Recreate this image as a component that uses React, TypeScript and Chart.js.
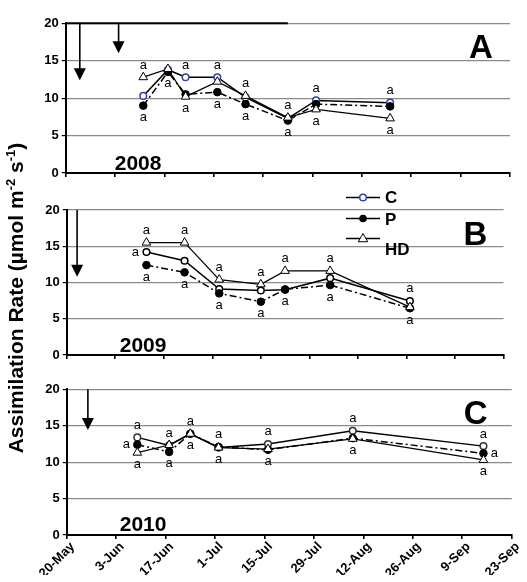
import React, { useEffect, useRef } from 'react';
import { Chart, registerables } from 'chart.js';
Chart.register(...registerables);

const FONT = "'Liberation Sans', Arial, Helvetica, sans-serif";

// ---------- data ----------
const tickLabels = ['20-May', '3-Jun', '17-Jun', '1-Jul', '15-Jul', '29-Jul', '12-Aug', '26-Aug', '9-Sep', '23-Sep'];
const axisStart = '05-20';

const dates2008 = ['06-11', '06-18', '06-23', '07-02', '07-10', '07-22', '07-30', '08-20'];
const c2008 = [10.3, 13.8, 12.8, 12.8, 10.1, 7.3, 9.7, 9.4];
const p2008 = [9.0, 13.5, 10.5, 10.8, 9.2, 7.0, 9.2, 8.9];
const hd2008 = [12.8, 13.9, 10.2, 12.2, 10.3, 7.4, 8.5, 7.3];

const dates2009 = ['06-12', '06-23', '07-03', '07-15', '07-22', '08-04', '08-27'];
const c2009 = [14.2, 13.0, 9.1, 8.9, 9.0, 10.6, 7.45];
const p2009 = [12.4, 11.4, 8.5, 7.35, 9.05, 9.65, 6.45];
const hd2009 = [15.5, 15.5, 10.4, 9.75, 11.6, 11.6, 6.6];

const dates2010 = ['06-09', '06-18', '06-24', '07-02', '07-16', '08-09', '09-15'];
const c2010 = [13.4, 12.3, 13.9, 12.0, 12.5, 14.3, 12.2];
const p2010 = [12.4, 11.4, 13.9, 12.1, 11.7, 13.3, 11.2];
const hd2010 = [11.3, 12.35, 13.9, 12.0, 11.8, 13.2, 10.3];

const arrows2008: [string, number][] = [['05-24', 12.4], ['06-04', 16.0]];
const arrows2009: [string, number][] = [['05-23', 10.8]];
const arrows2010: [string, number][] = [['05-26', 14.4]];
const topRuleEnd2008 = '07-22';

const years = ['2008', '2009', '2010'];
const panelLetters = ['A', 'B', 'C'];
const seriesNames = ['C', 'P', 'HD'];
const letterText = 'a';
// [panel, index] with no upper letter
const noAbove: [number, number][] = [[0, 1]];
// extra side letters: [panel, index, series, side]
const sideLetters: [number, number, number, number][] = [[1, 0, 0, -1], [2, 0, 1, -1], [2, 6, 1, 1]];
const yTitle = [
  { t: 'Assimilation Rate (µmol m', sup: false },
  { t: '-2', sup: true },
  { t: ' s', sup: false },
  { t: '-1', sup: true },
  { t: ')', sup: false },
];

// ---------- helpers ----------
function dayOf(md: string) {
  const [m, d] = md.split('-').map(Number);
  const [m0, d0] = axisStart.split('-').map(Number);
  return Math.round((Date.UTC(2001, m - 1, d) - Date.UTC(2001, m0 - 1, d0)) / 86400000);
}

const W = 527, H = 582;
const panels = [
  { dates: dates2008, series: [c2008, p2008, hd2008], arrows: arrows2008, area: { left: 65.7, right: 510, top: 23.3, bottom: 173 }, showX: false, letterRight: 29, yearLeft: 49, yearUp: 3, circleColor: '#2f46a8' },
  { dates: dates2009, series: [c2009, p2009, hd2009], arrows: arrows2009, area: { left: 66.7, right: 503.5, top: 210, bottom: 355 }, showX: false, letterRight: 28, yearLeft: 53, yearUp: 3, circleColor: '#000' },
  { dates: dates2010, series: [c2010, p2010, hd2010], arrows: arrows2010, area: { left: 66.7, right: 511.7, top: 389.3, bottom: 535 }, showX: true, letterRight: 36, yearLeft: 53, yearUp: 4, circleColor: '#333' },
];

function drawMarker(ctx: CanvasRenderingContext2D, kind: number, x: number, y: number, circleColor: string) {
  ctx.save();
  if (kind === 0) {
    ctx.beginPath(); ctx.arc(x, y, 3.3, 0, Math.PI * 2);
    ctx.fillStyle = '#fff'; ctx.fill(); ctx.lineWidth = 1.5; ctx.strokeStyle = circleColor; ctx.stroke();
  } else if (kind === 1) {
    ctx.beginPath(); ctx.arc(x, y, 3.8, 0, Math.PI * 2); ctx.fillStyle = '#000'; ctx.fill();
  } else {
    const r = 5;
    ctx.beginPath();
    ctx.moveTo(x, y - r); ctx.lineTo(x + r * 0.95, y + r * 0.65); ctx.lineTo(x - r * 0.95, y + r * 0.65); ctx.closePath();
    ctx.fillStyle = '#fff'; ctx.fill(); ctx.lineWidth = 1; ctx.strokeStyle = '#000'; ctx.stroke();
  }
  ctx.restore();
}

function makePlugin(pi: number) {
  const pan = panels[pi];
  return {
    id: 'annot' + pi,
    afterDatasetsDraw(chart: any) {
      const { ctx, chartArea } = chart;
      const xs = chart.scales.x, ys = chart.scales.y;
      ctx.save();
      // top rule (panel A)
      if (pi === 0) {
        ctx.beginPath();
        ctx.moveTo(chartArea.left, ys.getPixelForValue(20));
        ctx.lineTo(xs.getPixelForValue(dayOf(topRuleEnd2008)), ys.getPixelForValue(20));
        ctx.lineWidth = 2; ctx.strokeStyle = '#000'; ctx.stroke();
      }
      // arrows
      pan.arrows.forEach(([d, tip]) => {
        const ax = xs.getPixelForValue(dayOf(d));
        const ty = ys.getPixelForValue(tip);
        const y0 = ys.getPixelForValue(20);
        ctx.beginPath(); ctx.moveTo(ax, y0); ctx.lineTo(ax, ty - 10);
        ctx.lineWidth = 1.6; ctx.strokeStyle = '#000'; ctx.stroke();
        ctx.beginPath(); ctx.moveTo(ax - 6, ty - 12); ctx.lineTo(ax + 6, ty - 12); ctx.lineTo(ax, ty); ctx.closePath();
        ctx.fillStyle = '#000'; ctx.fill();
      });
      // significance letters
      ctx.font = `13px ${FONT}`;
      ctx.fillStyle = '#000';
      ctx.textAlign = 'center';
      ctx.textBaseline = 'alphabetic';
      pan.dates.forEach((d, i) => {
        const px = xs.getPixelForValue(dayOf(d));
        const vals = pan.series.map((s) => s[i]);
        const topPx = ys.getPixelForValue(Math.max(...vals));
        const botPx = ys.getPixelForValue(Math.min(...vals));
        const skip = noAbove.some(([p, k]) => p === pi && k === i);
        if (!skip) ctx.fillText(letterText, px, topPx - 12 + 3.5);
        ctx.fillText(letterText, px, botPx + 12 + 3.5);
      });
      sideLetters.filter((s) => s[0] === pi).forEach(([, i, si, side]) => {
        const px = xs.getPixelForValue(dayOf(pan.dates[i]));
        const py = ys.getPixelForValue(pan.series[si][i]);
        ctx.fillText(letterText, px + side * 11, py + 3.5);
      });
      // year
      ctx.font = `bold 21px ${FONT}`;
      ctx.textAlign = 'left';
      ctx.fillText(years[pi], chartArea.left + pan.yearLeft, chartArea.bottom - pan.yearUp);
      // panel letter
      ctx.font = `bold 33px ${FONT}`;
      ctx.textAlign = 'center';
      ctx.fillText(panelLetters[pi], chartArea.right - pan.letterRight, chartArea.top + 35);

      if (pi === 1) {
        // legend
        const lx0 = 346, lx1 = 380, mx = 363, tx = 385;
        const rows = [
          { ly: chartArea.top - 12.5, ty: chartArea.top - 12, dash: [] as number[] },
          { ly: chartArea.top + 8.5, ty: chartArea.top + 10, dash: [] as number[] },
          { ly: chartArea.top + 28.5, ty: chartArea.top + 40, dash: [] as number[] },
        ];
        rows.forEach((r, k) => {
          ctx.beginPath(); ctx.moveTo(lx0, r.ly); ctx.lineTo(lx1, r.ly);
          ctx.lineWidth = 1.3; ctx.strokeStyle = '#000'; ctx.setLineDash(r.dash); ctx.stroke();
          ctx.setLineDash([]);
          drawMarker(ctx, k, mx, r.ly, k === 0 ? '#2f46a8' : '#000');
          ctx.font = `bold 17px ${FONT}`;
          ctx.textAlign = 'left';
          ctx.textBaseline = 'middle';
          ctx.fillStyle = '#000';
          ctx.fillText(seriesNames[k], tx, r.ty);
        });
        // y title
        const big = `bold 21px ${FONT}`, small = `bold 13px ${FONT}`;
        let total = 0;
        yTitle.forEach((p) => { ctx.font = p.sup ? small : big; total += ctx.measureText(p.t).width; });
        ctx.translate(22.5, 298);
        ctx.rotate(-Math.PI / 2);
        ctx.textBaseline = 'alphabetic';
        ctx.textAlign = 'left';
        let pos = -total / 2;
        yTitle.forEach((p) => {
          ctx.font = p.sup ? small : big;
          ctx.fillText(p.t, pos, p.sup ? -8 : 0);
          pos += ctx.measureText(p.t).width;
        });
      }
      ctx.restore();
    },
  };
}

function makeConfig(pi: number): any {
  const pan = panels[pi];
  const xH = pan.showX ? 40 : 10;
  const yW = 40;
  const styles = [
    { borderDash: [], borderWidth: 1.5, pointStyle: 'circle', pointRadius: 3.3, pointBackgroundColor: '#fff', pointBorderColor: pan.circleColor, pointBorderWidth: 1.5, order: 2 },
    { borderDash: [7, 3, 2, 3], borderWidth: 1.5, pointStyle: 'circle', pointRadius: 3.8, pointBackgroundColor: '#000', pointBorderColor: '#000', pointBorderWidth: 1, order: 1 },
    { borderDash: [], borderWidth: 1.2, pointStyle: 'triangle', pointRadius: 5, pointBackgroundColor: '#fff', pointBorderColor: '#000', pointBorderWidth: 1, order: 0 },
  ];
  return {
    type: 'line',
    data: {
      datasets: pan.series.map((s, k) => ({
        label: seriesNames[k],
        data: pan.dates.map((d, i) => ({ x: dayOf(d), y: s[i] })),
        borderColor: '#000',
        tension: 0,
        fill: false,
        ...styles[k],
      })),
    },
    options: {
      responsive: false,
      animation: false,
      devicePixelRatio: 1,
      events: [],
      layout: {
        padding: { left: pan.area.left - yW, right: W - pan.area.right, top: pan.area.top, bottom: H - pan.area.bottom - xH },
      },
      plugins: { legend: { display: false }, tooltip: { enabled: false }, title: { display: false } },
      scales: {
        x: {
          type: 'linear',
          min: 0,
          max: 126,
          afterFit: (sc: any) => { sc.height = xH; },
          afterBuildTicks: (sc: any) => { sc.ticks = tickLabels.map((_, i) => ({ value: i * 14 })); },
          ticks: {
            display: pan.showX,
            autoSkip: false,
            maxRotation: 45,
            minRotation: 45,
            padding: 0,
            labelOffset: 6,
            color: '#000',
            font: { family: FONT, size: 13, weight: 'bold' },
            callback: (v: number) => tickLabels[Math.round(v / 14)],
          },
          grid: { display: true, drawOnChartArea: false, drawTicks: true, tickLength: 4, tickColor: '#000', lineWidth: 1.6, color: '#000' },
          border: { display: true, color: '#000', width: 2 },
        },
        y: {
          min: 0,
          max: 20,
          afterFit: (sc: any) => { sc.width = yW; },
          ticks: { stepSize: 5, padding: 3, color: '#000', font: { family: FONT, size: 13, weight: 'bold' } },
          grid: {
            color: (c: any) => (c.tick && c.tick.value === 0 ? 'rgba(0,0,0,0)' : '#8a8a8a'),
            lineWidth: 1.2,
            tickLength: 4,
            tickColor: '#000',
          },
          border: { display: true, color: '#000', width: 2 },
        },
      },
    },
    plugins: [makePlugin(pi)],
  };
}

export default function App() {
  const r0 = useRef<HTMLCanvasElement>(null);
  const r1 = useRef<HTMLCanvasElement>(null);
  const r2 = useRef<HTMLCanvasElement>(null);
  useEffect(() => {
    const refs = [r0, r1, r2];
    const charts = refs.map((r, i) => new Chart(r.current as HTMLCanvasElement, makeConfig(i)));
    return () => charts.forEach((c) => c.destroy());
  }, []);
  const cs: React.CSSProperties = { position: 'absolute', left: 0, top: 0, width: W, height: H };
  return (
    <div style={{ position: 'fixed', left: 0, top: 0, width: W, height: H, background: '#fff' }}>
      <canvas ref={r0} width={W} height={H} style={cs} />
      <canvas ref={r1} width={W} height={H} style={cs} />
      <canvas ref={r2} width={W} height={H} style={cs} />
    </div>
  );
}
